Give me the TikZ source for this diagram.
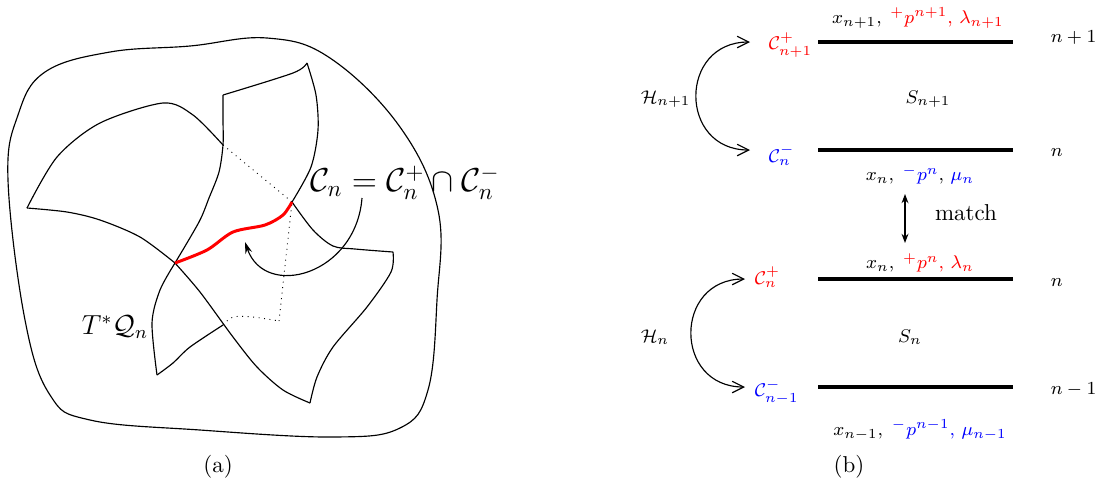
\documentclass[tikz,border=0pt]{standalone}
\usepackage{amsmath,amssymb}
\usetikzlibrary{arrows.meta, positioning, calc}

\begin{document}
\begin{tikzpicture}[
    x=0.01529cm, y=-0.01529cm,
    sheet/.style={line width=0.5pt},
    hidden/.style={dotted, line width=0.4pt},
    redpath/.style={red, line width=1.3pt},
    level/.style={line width=1.4pt},
    lbl/.style={font=\footnotesize, inner sep=1pt},
    harr/.style={{Straight Barb[length=5pt,width=5pt]}-{Straight Barb[length=5pt,width=5pt]},
                 line width=0.5pt},
    marr/.style={{Stealth[length=4pt,width=3pt]}-{Stealth[length=4pt,width=3pt]},
                 line width=0.5pt}
  ]
  \useasboundingbox (0,0) rectangle (1101,483);

  % (a) outer region
  \draw[sheet] plot[smooth cycle, tension=0.65] coordinates {
    (8,180) (18,115) (45,72) (110,52) (190,46) (267,38) (330,58)
    (400,127) (438,210) (437,300) (428,390) (400,428) (333,437)
    (200,430) (90,420) (50,395) (25,320)};

  % corners of the two sheets
  \coordinate (L) at (27,208);
  \coordinate (J1) at (223,145);
  \coordinate (P) at (292,202);
  \coordinate (R) at (393,252);
  \coordinate (B) at (310,403);
  \coordinate (X) at (175,263);
  \coordinate (C1) at (223,95);
  \coordinate (C2) at (307,63);
  \coordinate (Bt) at (157,375);
  \coordinate (J2) at (223,325);
  \coordinate (D) at (279,321);

  % first sheet
  \draw[sheet] plot[smooth] coordinates {(L) (57,157) (100,123) (163,103) (193,115) (J1)};
  \draw[hidden] (J1) -- (P);
  \draw[sheet] plot[smooth] coordinates {(P) (313,230) (333,246) (355,249) (R)};
  \draw[sheet] plot[smooth] coordinates {(R) (391,272) (367,307) (333,347) (317,377) (B)};
  \draw[sheet] plot[smooth] coordinates {(B) (283,390) (257,367) (233,337) (200,292) (X)};
  \draw[sheet] plot[smooth] coordinates {(X) (140,237) (100,220) (67,212) (L)};

  % second sheet
  \draw[sheet] plot[smooth] coordinates {(C1) (293,73) (C2)};
  \draw[sheet] plot[smooth] coordinates {(C2) (316,95) (318,130) (311,167) (P)};
  \draw[sheet] plot[smooth, tension=0.5] coordinates {(C1) (223,120) (J1) (219,172) (209,198) (199,222) (X)};
  \draw[sheet] plot[smooth] coordinates {(X) (160,290) (152,323) (Bt)};
  \draw[sheet] plot[smooth] coordinates {(Bt) (173,363) (190,347) (J2)};
  \draw[hidden] plot[smooth] coordinates {(J2) (233,317) (253,317) (D)};
  \draw[hidden] (D) -- (P);

  % intersection curve
  \draw[redpath] plot[smooth] coordinates {(X) (207,250) (233,232) (265,225) (283,215) (P)};

  \node[font=\Large, inner sep=1pt] (cn) at (405,183)
    {$\mathcal{C}_n=\mathcal{C}_n^{+}\cap\mathcal{C}_n^{-}$};
  \coordinate (tailC) at (362,198);
  \coordinate (headC) at (245,242);
  \draw[sheet, -{Stealth[length=5pt,width=3pt]}]
    (tailC) .. controls (356,275) and (265,300) .. (headC);

  \node[font=\large, inner sep=1pt] (tq) at (115,327) {$T^{*}\mathcal{Q}_n$};
  \node (capa) at (218,467) {(a)};

  % (b) levels
  \coordinate (l3a) at (818,42);  \coordinate (l3b) at (1013,42);
  \coordinate (l2a) at (818,150); \coordinate (l2b) at (1013,150);
  \coordinate (l1a) at (818,279); \coordinate (l1b) at (1013,279);
  \coordinate (l0a) at (818,387); \coordinate (l0b) at (1013,387);
  \draw[level] (l3a) -- (l3b);
  \draw[level] (l2a) -- (l2b);
  \draw[level] (l1a) -- (l1b);
  \draw[level] (l0a) -- (l0b);

  \node[lbl] (d3) at (918,18)
    {$x_{n+1},\;\color{red}{}^{+}p^{n+1},\,\lambda_{n+1}$};
  \node[lbl] (d2) at (920,175)
    {$x_{n},\;{\color{blue}{}^{-}p^{n}},\,{\color{blue}\mu_{n}}$};
  \node[lbl] (d1) at (920,263)
    {$x_{n},\;\color{red}{}^{+}p^{n},\,\lambda_{n}$};
  \node[lbl] (d0) at (920,430)
    {$x_{n-1},\;\color{blue}{}^{-}p^{n-1},\,\mu_{n-1}$};

  \node[lbl] (s2) at (928,99) {$S_{n+1}$};
  \node[lbl] (s1) at (910,337) {$S_{n}$};

  \node[lbl, anchor=west] (n3) at (1048,38) {$n+1$};
  \node[lbl, anchor=west] (n2) at (1048,153) {$n$};
  \node[lbl, anchor=west] (n1) at (1048,283) {$n$};
  \node[lbl, anchor=west] (n0) at (1048,390) {$n-1$};

  \node[lbl, anchor=west, text=red] (cp3) at (766,45) {$\mathcal{C}^{+}_{n+1}$};
  \node[lbl, anchor=west, text=blue] (cm2) at (766,155) {$\mathcal{C}^{-}_{n}$};
  \node[lbl, anchor=west, text=red] (cp1) at (752,277) {$\mathcal{C}^{+}_{n}$};
  \node[lbl, anchor=west, text=blue] (cm0) at (752,392) {$\mathcal{C}^{-}_{n-1}$};

  \node[lbl, anchor=west] (h2) at (638,99) {$\mathcal{H}_{n+1}$};
  \node[lbl, anchor=west] (h1) at (638,337) {$\mathcal{H}_{n}$};

  \coordinate (a3) at (750,42);
  \coordinate (a2) at (750,150);
  \coordinate (a1) at (745,279);
  \coordinate (a0) at (745,387);
  \draw[harr] (a3) to[out=180, in=180, looseness=1.7] (a2);
  \draw[harr] (a1) to[out=180, in=180, looseness=1.7] (a0);

  \coordinate (m2) at (905,194);
  \coordinate (m1) at (905,243);
  \draw[marr] (m2) -- (m1);
  \node (match) at (966,213) {match};

  \node (capb) at (849,467) {(b)};
\end{tikzpicture}
\end{document}
